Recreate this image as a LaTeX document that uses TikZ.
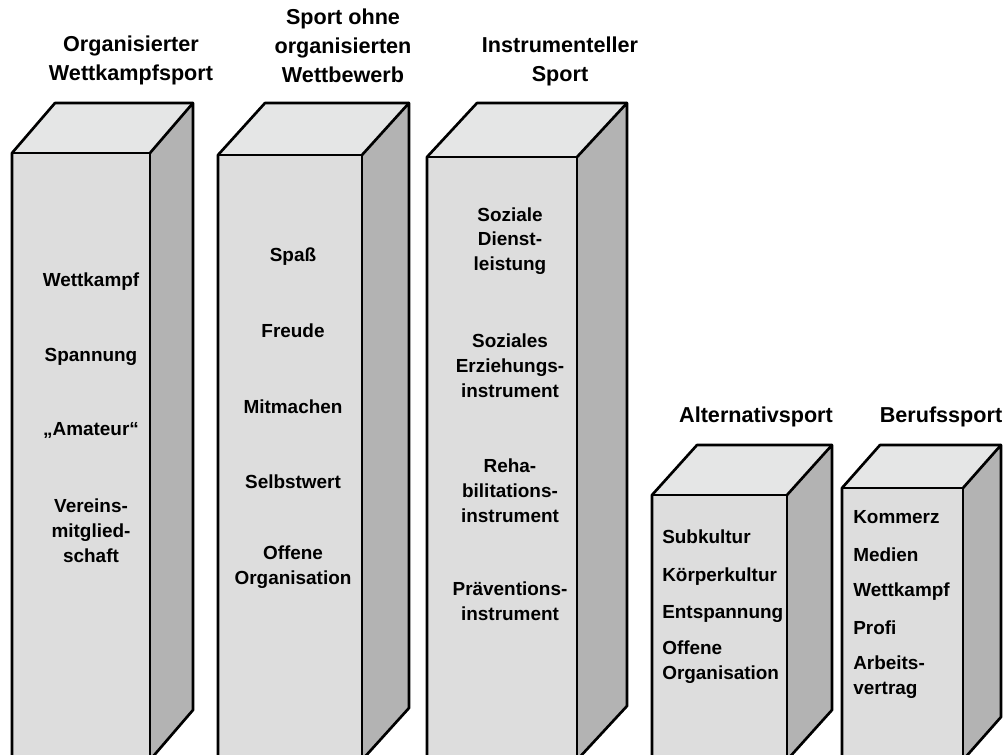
\documentclass[tikz,border=0pt]{standalone}
\usepackage{fontspec}
\setmainfont{Liberation Sans}
\definecolor{frontgray}{HTML}{DDDDDD}
\definecolor{topgray}{HTML}{E5E6E6}
\definecolor{sidegray}{HTML}{B3B3B3}
\tikzset{
  facefront/.style={fill=frontgray},
  facetop/.style={fill=topgray},
  faceside/.style={fill=sidegray},
  edge/.style={draw=black, line width=2pt, line join=round},
  titletext/.style={font=\bfseries\fontsize{16.2}{21.8}\selectfont, align=center, inner sep=0pt},
  itemtext/.style={font=\bfseries\fontsize{14.2}{18.6}\selectfont, align=center, inner sep=0pt},
  itemleft/.style={font=\bfseries\fontsize{14.2}{18.6}\selectfont, align=left, anchor=west, inner sep=0pt},
}
% #1 left, #2 right, #3 front top, #4 dx, #5 dy
\newcommand\mypillar[5]{%
  \path[faceside] (#2,#3) -- (#2+#4,#3-#5) -- (#2+#4,760-#5) -- (#2,760) -- cycle;
  \path[facetop] (#1,#3) -- (#1+#4,#3-#5) -- (#2+#4,#3-#5) -- (#2,#3) -- cycle;
  \path[facefront] (#1,#3) rectangle (#2,760);
  \draw[edge] (#2,#3) -- (#2+#4,#3-#5) -- (#2+#4,760-#5) -- (#2,760);
  \draw[edge] (#1,760) -- (#1,#3) -- (#1+#4,#3-#5) -- (#2+#4,#3-#5);
  \draw[edge] (#1,#3) -- (#2,#3) -- (#2,760);
}
\begin{document}
\begin{tikzpicture}[x=0.75pt,y=-0.75pt]
\useasboundingbox (0,0) rectangle (1005,754);
\begin{scope}
\clip (0,0) rectangle (1005,754);
\mypillar{12}{150}{153}{43}{50}
\mypillar{218}{362}{155}{47}{52}
\mypillar{427}{577}{157}{50}{54}
\mypillar{652}{787}{495}{45}{50}
\mypillar{842}{963}{488}{38}{43}
\end{scope}

% titles
\node[titletext] (t1) at (131,60.5) {Organisierter\\Wettkampfsport};
\node[titletext] (t2) at (343,46) {Sport ohne\\organisierten\\Wettbewerb};
\node[titletext] (t3) at (560,61.5) {Instrumenteller\\Sport};
\node[titletext] (t4) at (756,417) {Alternativsport};
\node[titletext] (t5) at (941,417) {Berufssport};

% pillar 1
\node[itemtext] (a1) at (91,282) {Wettkampf};
\node[itemtext] (a2) at (91,357) {Spannung};
\node[itemtext] (a3) at (91,430) {„Amateur“};
\node[itemtext] (a4) at (91,531) {Vereins-\\mitglied-\\schaft};

% pillar 2
\node[itemtext] (b1) at (293,257) {Spaß};
\node[itemtext] (b2) at (293,331) {Freude};
\node[itemtext] (b3) at (293,407) {Mitmachen};
\node[itemtext] (b4) at (293,482) {Selbstwert};
\node[itemtext] (b5) at (293,567) {Offene\\Organisation};

% pillar 3
\node[itemtext] (c1) at (510,241) {Soziale\\Dienst-\\leistung};
\node[itemtext] (c2) at (510,366) {Soziales\\Erziehungs-\\instrument};
\node[itemtext] (c3) at (510,491) {Reha-\\bilitations-\\instrument};
\node[itemtext] (c4) at (510,601) {Präventions-\\instrument};

% pillar 4
\node[itemleft] (d1) at (662,537) {Subkultur};
\node[itemleft] (d2) at (662,577) {Körperkultur};
\node[itemleft] (d3) at (662,614) {Entspannung};
\node[itemleft] (d4) at (662,662) {Offene\\Organisation};

% pillar 5
\node[itemleft] (e1) at (853,517) {Kommerz};
\node[itemleft] (e2) at (853,555) {Medien};
\node[itemleft] (e3) at (853,592) {Wettkampf};
\node[itemleft] (e4) at (853,628) {Profi};
\node[itemleft] (e5) at (853,677) {Arbeits-\\vertrag};
\end{tikzpicture}
\end{document}
